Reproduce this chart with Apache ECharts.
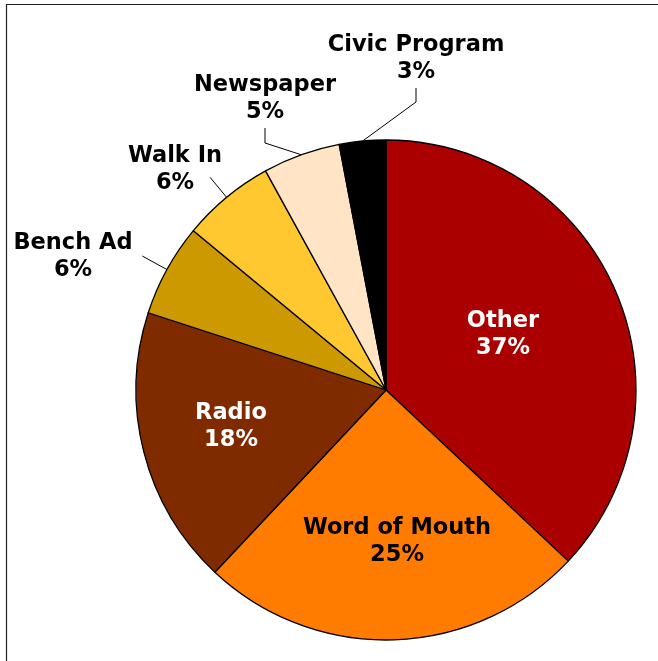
<!DOCTYPE html>
<html>
<head>
<meta charset="utf-8">
<script src="https://cdn.jsdelivr.net/npm/echarts@6/dist/echarts.min.js"></script>
<style>
html,body{margin:0;padding:0;background:#fff;}
#chart{width:658px;height:661px;}
</style>
</head>
<body>
<div id="chart"></div>
<script>
const categories = ['Other', 'Word of Mouth', 'Radio', 'Bench Ad', 'Walk In', 'Newspaper', 'Civic Program'];
const values = [37, 25, 18, 6, 6, 5, 3];
const colors = ['#AA0000', '#FF7C00', '#802A00', '#CC9900', '#FFC830', '#FFE5C6', '#000000'];
const insideLabels = ['Other', 'Word of Mouth', 'Radio'];
const labelColors = {'Other': '#FFFFFF', 'Radio': '#FFFFFF'};

// layout settings (not data)
const pieCenter = [386, 390];
const pieRadius = 250;
const labelAnchors = {
  'Other': [117, -55],
  'Word of Mouth': [11, 152],
  'Radio': [-155, 37],
  'Bench Ad': [-313, -133],
  'Walk In': [-211, -220],
  'Newspaper': [-121, -291],
  'Civic Program': [30, -331]
};
const leaderStyle = {
  'Bench Ad': {type: 'radial', len: 28},
  'Walk In': {type: 'radial', len: 26},
  'Newspaper': {type: 'elbow', drop: 29, rise: 15},
  'Civic Program': {type: 'elbow', drop: 29, rise: 14}
};

const total = values.reduce((a, b) => a + b, 0);
function midAngle(i) {
  let cum = 0;
  for (let k = 0; k < i; k++) cum += values[k];
  const a = 90 - 360 * (cum + values[i] / 2) / total;
  return a * Math.PI / 180;
}

const chart = echarts.init(document.getElementById('chart'), null, {renderer: 'canvas'});

const data = categories.map((c, i) => {
  const inside = insideLabels.includes(c);
  return {
    name: c,
    value: values[i],
    itemStyle: {color: colors[i]},
    label: {
      position: inside ? 'inside' : 'outside',
      color: labelColors[c] || '#000000'
    },
    labelLine: {show: !inside}
  };
});

chart.setOption({
  animation: false,
  backgroundColor: '#FFFFFF',
  graphic: [{
    type: 'rect',
    shape: {x: 6.5, y: 4.5, width: 800, height: 800},
    style: {fill: 'none', stroke: '#222', lineWidth: 1.2},
    silent: true
  }],
  series: [{
    type: 'pie',
    center: pieCenter,
    radius: [0, pieRadius],
    startAngle: 90,
    clockwise: true,
    avoidLabelOverlap: false,
    itemStyle: {borderColor: '#000', borderWidth: 1.3},
    label: {
      formatter: p => p.name + '\n' + p.value + '%',
      fontFamily: 'DejaVu Sans',
      fontWeight: 'bold',
      fontSize: 22.5,
      lineHeight: 27,
      align: 'center'
    },
    labelLine: {length: 15, length2: 8, lineStyle: {color: '#000', width: 1}},
    labelLayout: function (params) {
      const i = params.dataIndex;
      const name = categories[i];
      const anc = labelAnchors[name];
      const cx = pieCenter[0] + anc[0];
      const cy = pieCenter[1] + anc[1];
      const out = {x: cx, y: cy, align: 'center', verticalAlign: 'middle', hideOverlap: false, moveOverlap: null};
      const ls = leaderStyle[name];
      if (ls) {
        const a = midAngle(i);
        const dx = Math.cos(a), dy = -Math.sin(a);
        const p0 = [pieCenter[0] + pieRadius * dx, pieCenter[1] + pieRadius * dy];
        if (ls.type === 'radial') {
          const p1 = [pieCenter[0] + (pieRadius + ls.len) * dx, pieCenter[1] + (pieRadius + ls.len) * dy];
          out.labelLinePoints = [p0, p1, p1];
        } else {
          const p2 = [cx, cy + ls.drop];
          const p1 = [cx, cy + ls.drop + ls.rise];
          out.labelLinePoints = [p0, p1, p2];
        }
      }
      return out;
    },
    data: data
  }]
});
</script>
</body>
</html>
